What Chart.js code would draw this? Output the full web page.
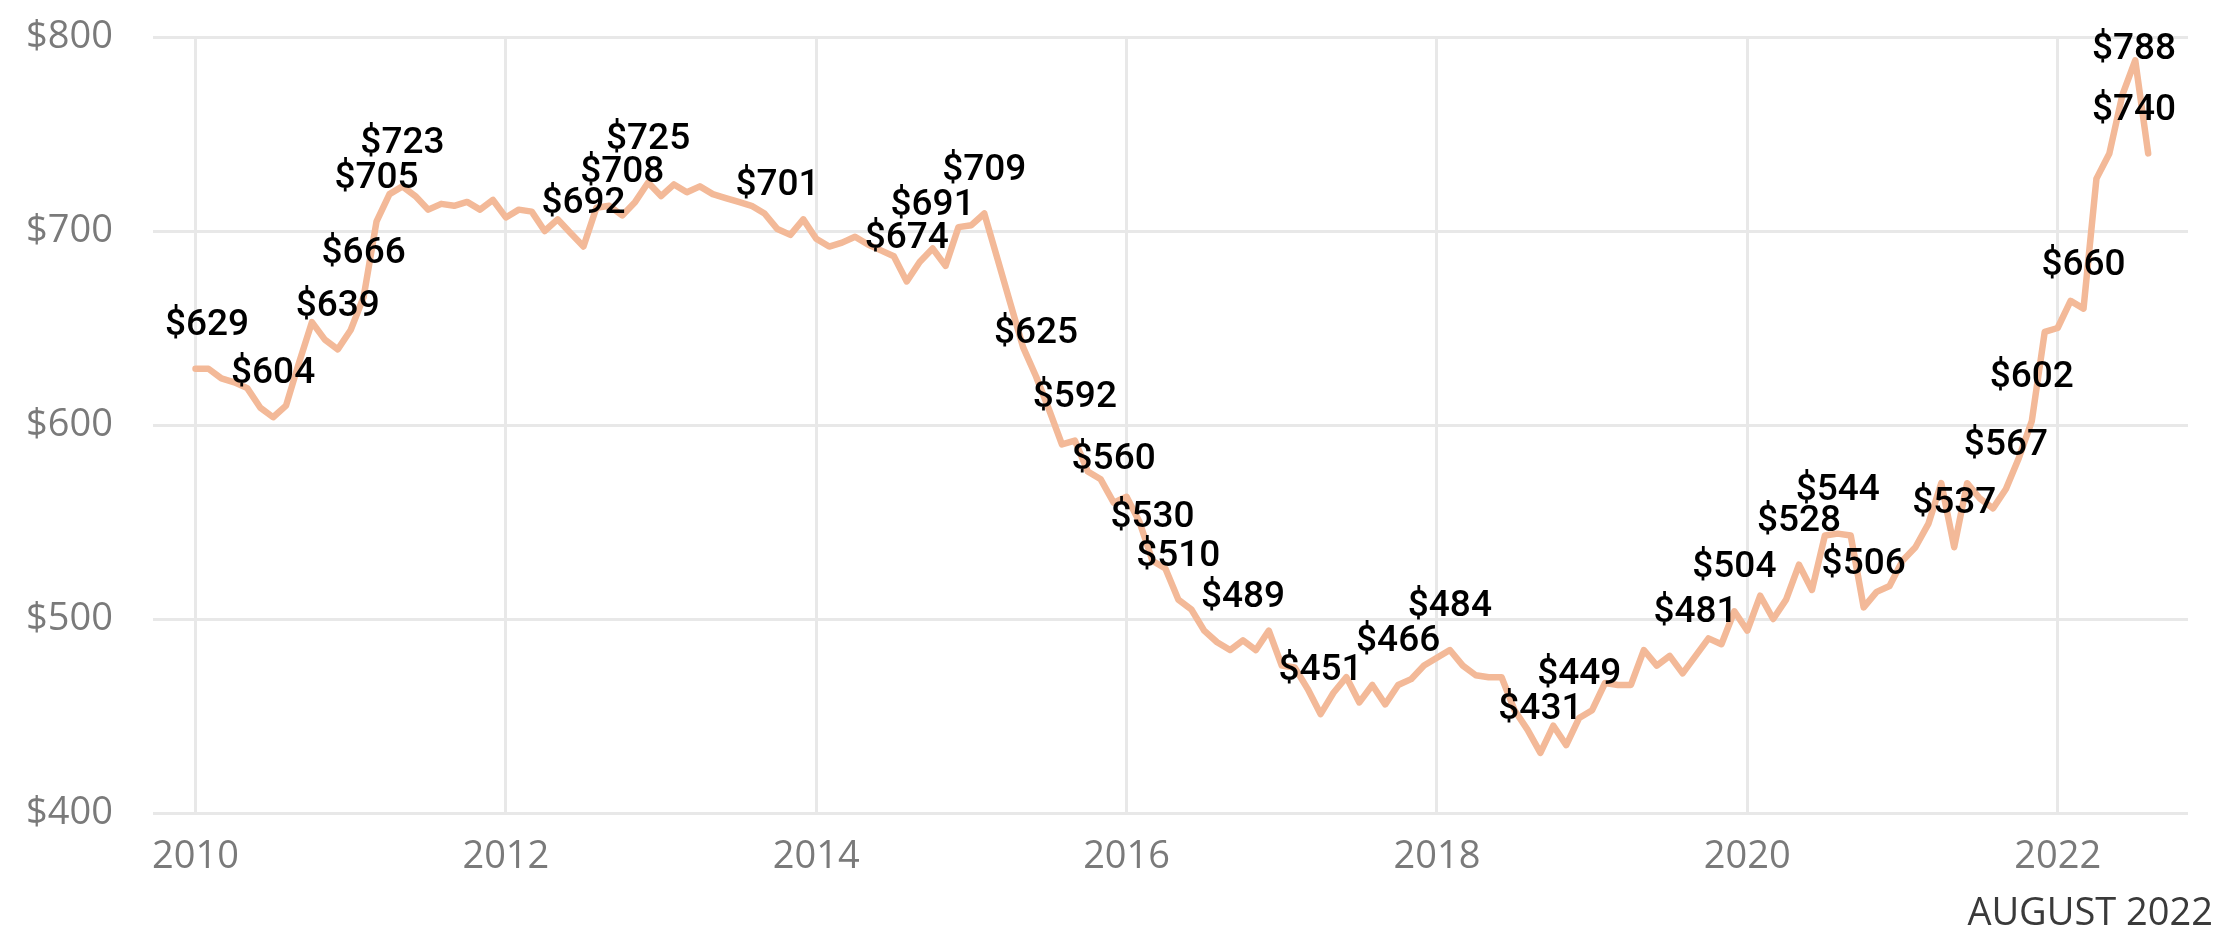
<!DOCTYPE html>
<html>
<head>
<meta charset="utf-8">
<script src="https://cdn.jsdelivr.net/npm/chart.js@4.4.0/dist/chart.umd.min.js"></script>
<style>
  html, body { margin: 0; padding: 0; background: #fff; }
  #wrap { width: 2221px; height: 934px; }
</style>
</head>
<body>
<div id="wrap"><canvas id="chart" width="2221" height="934"></canvas></div>
<script>
// monthly values, Jan 2010 .. Aug 2022
const startYear = 2010;
const rents = [
  629, 629, 624, 622, 619, 609, 604, 610, 632, 653, 644, 639,   // 2010
  649, 666, 705, 719, 723, 718, 711, 714, 713, 715, 711, 716,   // 2011
  707, 711, 710, 700, 706, 699, 692, 712, 713, 708, 715, 725,   // 2012
  718, 724, 720, 723, 719, 717, 715, 713, 709, 701, 698, 706,   // 2013
  696, 692, 694, 697, 693, 690, 687, 674, 684, 691, 682, 702,   // 2014
  703, 709, 686, 663, 640, 625, 608, 590, 592, 576, 572, 560,   // 2015
  563, 550, 530, 526, 510, 505, 494, 488, 484, 489, 484, 494,   // 2016
  476, 475, 464, 451, 462, 470, 457, 466, 456, 466, 469, 476,   // 2017
  480, 484, 476, 471, 470, 470, 453, 443, 431, 445, 435, 449,   // 2018
  453, 467, 466, 466, 484, 476, 481, 472, 481, 490, 487, 504,   // 2019
  494, 512, 500, 510, 528, 515, 543, 544, 543, 506, 514, 517,   // 2020
  530, 537, 549, 570, 537, 570, 562, 557, 567, 583, 602, 648,   // 2021
  650, 664, 660, 727, 740, 770, 788, 740                        // 2022
];
// months that carry a value label
const labelIdx = [0, 6, 11, 13, 14, 16, 30, 33, 35, 45, 55, 57, 61, 65, 68, 71, 74, 76,
  81, 87, 93, 97, 104, 107, 116, 119, 124, 127, 129, 136, 140, 142, 146, 150, 151];
const yearTicks = [2010, 2012, 2014, 2016, 2018, 2020, 2022];
const yTicks = [400, 500, 600, 700, 800];
const footNote = 'AUGUST 2022';

const points = rents.map((v, i) => ({ x: startYear + i / 12, y: v }));

// value labels sit above their point, kept inside the plot area
const valueLabels = {
  id: 'valueLabels',
  afterDatasetsDraw(chart) {
    const { ctx, chartArea } = chart;
    const meta = chart.getDatasetMeta(0);
    ctx.save();
    ctx.font = '500 37px Roboto';
    ctx.fillStyle = '#000';
    ctx.textAlign = 'center';
    ctx.textBaseline = 'middle';
    labelIdx.forEach(i => {
      const pt = meta.data[i];
      const text = '$' + rents[i];
      const hw = ctx.measureText(text).width / 2;
      const x = Math.min(Math.max(pt.x, chartArea.left + hw + 12), chartArea.right - hw - 12);
      const y = Math.max(pt.y - 43, chartArea.top + 13);
      ctx.fillText(text, x, y);
    });
    ctx.restore();
  }
};

const footer = {
  id: 'footer',
  afterDraw(chart) {
    const { ctx } = chart;
    ctx.save();
    ctx.font = '38px "Open Sans"';
    ctx.fillStyle = '#3a3a3a';
    ctx.textAlign = 'right';
    ctx.textBaseline = 'middle';
    ctx.fillText(footNote, chart.width - 8, 914);
    ctx.restore();
  }
};

new Chart(document.getElementById('chart'), {
  type: 'line',
  data: {
    datasets: [{
      data: points,
      borderColor: '#F3B998',
      borderWidth: 6.5,
      borderJoinStyle: 'round',
      borderCapStyle: 'round',
      pointRadius: 0,
      tension: 0,
    }],
  },
  options: {
    responsive: false,
    animation: false,
    devicePixelRatio: 1,
    layout: { padding: { left: 26, right: 33, top: 37, bottom: 54 } },
    plugins: { legend: { display: false }, tooltip: { enabled: false } },
    scales: {
      x: {
        type: 'linear',
        min: 2009.726,
        max: 2022.84,
        afterBuildTicks: s => { s.ticks = yearTicks.map(v => ({ value: v })); },
        afterFit: s => { s.paddingLeft = 0; s.paddingRight = 0; s.height = 67; },
        ticks: { color: '#7a7a7a', font: { family: 'Open Sans', size: 38 }, padding: 21, callback: v => String(v), maxRotation: 0 },
        grid: { color: '#E8E8E8', lineWidth: 3, drawTicks: false },
        border: { display: false },
      },
      y: {
        min: 400,
        max: 800,
        afterBuildTicks: s => { s.ticks = yTicks.map(v => ({ value: v })); },
        afterFit: s => { s.paddingTop = 0; s.paddingBottom = 0; s.width = 127; },
        ticks: { color: '#7a7a7a', font: { family: 'Open Sans', size: 38 }, padding: 40, callback: v => '$' + v },
        grid: { color: '#E8E8E8', lineWidth: 3, drawTicks: false },
        border: { display: false },
      },
    },
  },
  plugins: [valueLabels, footer],
});
</script>
</body>
</html>
